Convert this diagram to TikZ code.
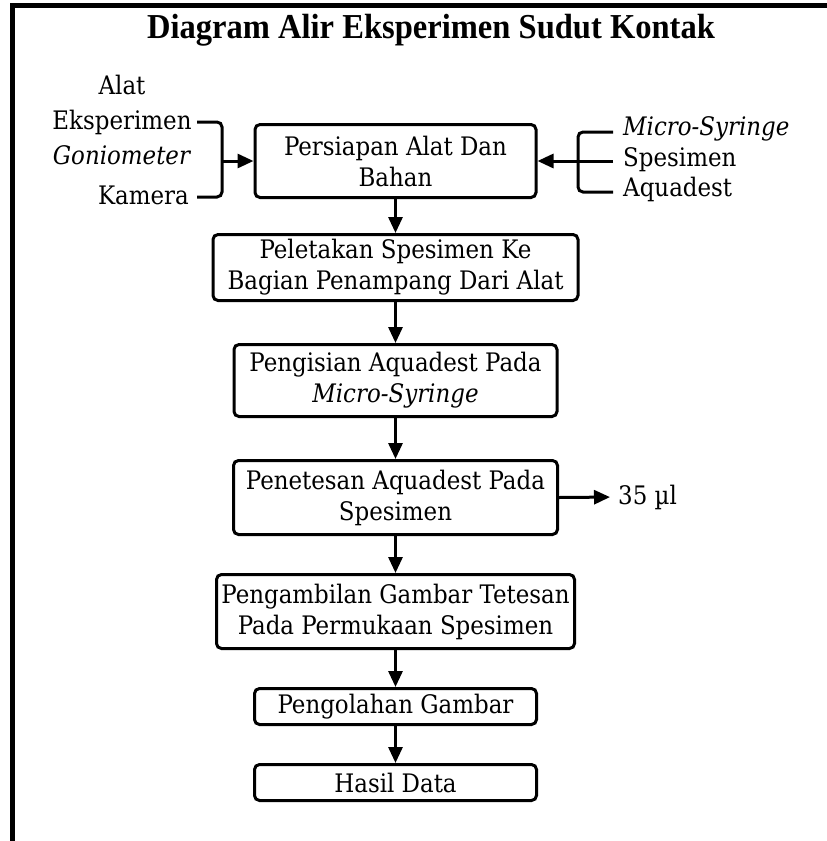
\documentclass[tikz,border=0pt]{standalone}
\usepackage{fontspec}
\usepackage{graphicx}
\usetikzlibrary{arrows.meta}
\setmainfont{DejaVu Serif Condensed}[ItalicFont={DejaVu Serif Condensed Italic}]
\newfontfamily\titlefont{Liberation Serif}
\begin{document}
\begin{tikzpicture}[x=1pt,y=-1pt,
  every node/.style={font=\fontsize{25.5}{31}\selectfont, inner sep=0pt},
  stepbox/.style={draw, line width=3pt, rounded corners=5pt, align=center},
  link/.style={line width=3pt, -{Triangle[length=16pt,width=14pt]}},
  bracket/.style={line width=3pt, rounded corners=5pt}]
\useasboundingbox (0,0) rectangle (827,841);
% outer frame (top and left edges)
\draw[line width=4.5pt] (827,5.5) -- (12.5,5.5) -- (12.5,841);
% title
\node (title) at (431,30) {\titlefont\bfseries\fontsize{35}{40}\selectfont\scalebox{0.93}[1]{Diagram Alir Eksperimen Sudut Kontak}};
% main flow
\node[stepbox, minimum width=281pt, minimum height=73pt] (b1) at (395.5,161) {Persiapan Alat Dan\\Bahan};
\node[stepbox, minimum width=365pt, minimum height=66pt] (b2) at (395.5,267.5) {Peletakan Spesimen Ke\\Bagian Penampang Dari Alat};
\node[stepbox, minimum width=323pt, minimum height=72pt] (b3) at (395.5,380.5) {Pengisian Aquadest Pada\\\textit{Micro-Syringe}};
\node[stepbox, minimum width=324pt, minimum height=74pt] (b4) at (395.5,497.5) {Penetesan Aquadest Pada\\Spesimen};
\node[stepbox, minimum width=358pt, minimum height=74pt] (b5) at (395.5,611.5) {Pengambilan Gambar Tetesan\\Pada Permukaan Spesimen};
\node[stepbox, minimum width=282pt, minimum height=36pt] (b6) at (395.5,706.5) {Pengolahan Gambar};
\node[stepbox, minimum width=282pt, minimum height=36pt] (b7) at (395.5,782.5) {Hasil Data};
\draw[link] (b1) -- (b2);
\draw[link] (b2) -- (b3);
\draw[link] (b3) -- (b4);
\draw[link] (b4) -- (b5);
\draw[link] (b5) -- (b6);
\draw[link] (b6) -- (b7);
% left inputs
\node[align=center, font=\fontsize{25.5}{35}\selectfont] (tool) at (122,120) {Alat\\Eksperimen\\\textit{Goniometer}};
\node[anchor=east] (cam) at (189,195) {Kamera};
\coordinate (lt) at (197,122);
\coordinate (lb) at (197,197);
\coordinate (lm) at (222,161);
\draw[bracket] (lt) -- (222,122) -- (222,197) -- (lb);
\draw[link] (lm) -- (b1.west);
% right inputs
\node[anchor=west] (syr) at (623,129) {\textit{Micro-Syringe}};
\node[anchor=west] (spc) at (623,160) {Spesimen};
\node[anchor=west] (aqd) at (623,189) {Aquadest};
\coordinate (rt) at (613,132);
\coordinate (rb) at (613,192);
\coordinate (rm) at (613,161);
\draw[bracket] (rt) -- (578,132) -- (578,192) -- (rb);
\draw[link] (rm) -- (b1.east);
% volume
\node[anchor=west] (vol) at (618,497) {35 µl};
\draw[link, shorten >=8pt] (b4.east) -- (vol.west);
\end{tikzpicture}
\end{document}
